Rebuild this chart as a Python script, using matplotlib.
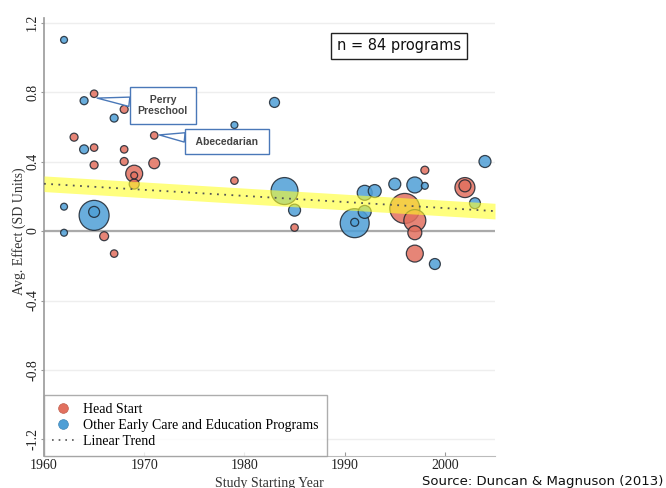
import numpy as np
import matplotlib
matplotlib.use('Agg')
import matplotlib.pyplot as plt
from matplotlib.lines import Line2D
from matplotlib.ticker import FuncFormatter

# Head Start programs: start year, average effect (SD units), study weight
hs_year   = [1965, 1968, 1963, 1971, 1965, 1968, 1965, 1968, 1971, 1969, 1969, 1969,
             1966, 1967, 1979, 1979, 1998, 1985, 1996, 1997, 1997, 1997, 2002, 2002]
hs_effect = [0.79, 0.70, 0.54, 0.55, 0.48, 0.47, 0.38, 0.40, 0.39, 0.33, 0.32, 0.27,
             -0.03, -0.13, 0.55, 0.29, 0.35, 0.02, 0.13, 0.06, -0.01, -0.13, 0.25, 0.26]
hs_weight = [14, 16, 16, 14, 14, 14, 16, 16, 30, 72, 12, 25,
             20, 14, 16, 14, 16, 14, 225, 121, 49, 72, 100, 36]

# Other early care and education programs
oth_year   = [1962, 1964, 1967, 1964, 1962, 1965, 1965, 1962, 1983, 1979, 1980, 1984,
              1985, 1991, 1991, 1992, 1993, 1992, 1995, 1997, 1998, 1999, 2003, 2004]
oth_effect = [1.10, 0.75, 0.65, 0.47, 0.14, 0.09, 0.11, -0.01, 0.74, 0.61, 0.48, 0.23,
              0.12, 0.045, 0.05, 0.22, 0.23, 0.11, 0.27, 0.265, 0.26, -0.19, 0.16, 0.40]
oth_weight = [12, 16, 16, 20, 12, 225, 30, 12, 25, 12, 16, 182,
              36, 210, 16, 56, 42, 42, 36, 64, 12, 30, 30, 36]

# fitted linear trend and its confidence band
trend_years = [1960, 2005]
trend_start, trend_slope = 0.272, -0.0035
band_half = 0.045

yticks = [-1.2, -0.8, -0.4, 0, 0.4, 0.8, 1.2]
xticks = [1960, 1970, 1980, 1990, 2000]

RED = '#e2705f'
BLUE = '#4f9fd6'
SERIF = ['Liberation Serif', 'DejaVu Serif']

fig = plt.figure(figsize=(6.66, 4.88), dpi=100)
ax = fig.add_axes([44/666, 1-456/488, 451/666, 438/488])
ax.set_xlim(1960, 2005)
ax.set_ylim(-1.295, 1.226)

# grid and zero line
for v in yticks:
    ax.axhline(v, color='#eeeeee', lw=1, zorder=0)
ax.axhline(0, color='#aaaaaa', lw=1.6, zorder=1)

def draw_points(years, effects, weights, color):
    order = np.argsort(weights)[::-1]
    x = np.array(years)[order]
    y = np.array(effects)[order]
    s = np.array(weights)[order] * 2.07
    ax.scatter(x, y, s=s, c=color, alpha=0.85, edgecolors='#1c2530',
               linewidths=0.9, zorder=2)

draw_points(hs_year, hs_effect, hs_weight, RED)
draw_points(oth_year, oth_effect, oth_weight, BLUE)

tx = np.array(trend_years, dtype=float)
ty = trend_start + trend_slope * (tx - 1960)
ax.fill_between(tx, ty - band_half, ty + band_half, color='#ffff2a', alpha=0.6,
                lw=0, zorder=3)
ax.plot(tx, ty, color='#555555', lw=1.3, ls=(0, (1, 3)), zorder=4)

# callouts
callout_box = dict(boxstyle='square,pad=0.75', fc='white', ec='#4a78b8', lw=1)
callout_arrow = dict(arrowstyle='wedge,tail_width=0.9', fc='white', ec='#4a78b8',
                     lw=1, shrinkA=0, shrinkB=0)
ax.annotate('  Perry  \nPreschool', xy=(1965.3, 0.765), xytext=(1971.85, 0.722),
            ha='center', va='center', fontsize=7.5, fontweight='bold',
            family='Liberation Sans', color='#444444', linespacing=1.15,
            bbox=callout_box, arrowprops=callout_arrow, zorder=5)
ax.annotate(' Abecedarian ', xy=(1971.5, 0.553), xytext=(1978.25, 0.515),
            ha='center', va='center', fontsize=7.5, fontweight='bold',
            family='Liberation Sans', color='#444444',
            bbox=callout_box, arrowprops=callout_arrow, zorder=5)

ax.text(1995.4, 1.065, 'n = 84 programs', ha='center', va='center', fontsize=10.5,
        family='DejaVu Sans', color='#111111',
        bbox=dict(boxstyle='square,pad=0.4', fc='white', ec='#222222', lw=1))

# axes styling
for side in ['top', 'right']:
    ax.spines[side].set_visible(False)
ax.spines['left'].set_color('#999999')
ax.spines['left'].set_linewidth(1.2)
ax.spines['bottom'].set_color('#bbbbbb')
ax.set_yticks(yticks)
ax.set_xticks(xticks)
ax.yaxis.set_major_formatter(FuncFormatter(lambda v, p: '0' if v == 0 else f'{v:.1f}'))
ax.tick_params(axis='both', colors='#999999', labelcolor='#222222')
ax.tick_params(axis='y', labelrotation=90, length=2, pad=1.5)
ax.tick_params(axis='x', direction='in', length=3, pad=2)
for lab in ax.get_yticklabels() + ax.get_xticklabels():
    lab.set_family(SERIF)
    lab.set_fontsize(10)
for lab in ax.get_yticklabels():
    lab.set_va('center')

ax.set_ylabel('Avg. Effect (SD Units)', family=SERIF, fontsize=10, color='#333333')
ax.yaxis.set_label_coords(-0.04, 0.514)
ax.set_xlabel('Study Starting Year', family=SERIF, fontsize=10, color='#333333',
              labelpad=4)

handles = [
    Line2D([], [], ls='none', marker='o', ms=7, mfc=RED, mec='#c0604f', mew=0.5),
    Line2D([], [], ls='none', marker='o', ms=7, mfc=BLUE, mec='#3f85b5', mew=0.5),
    Line2D([], [], color='#555555', ls=(0, (1, 3)), lw=1.2),
]
leg = ax.legend(handles, ['Head Start', 'Other Early Care and Education Programs',
                          'Linear Trend'],
                loc='lower left', bbox_to_anchor=(0, 0), borderaxespad=0,
                prop={'family': SERIF, 'size': 10}, frameon=True, fancybox=False,
                edgecolor='#999999', labelspacing=0.2, handlelength=1.6,
                handletextpad=0.6, borderpad=0.6)
leg.get_frame().set_linewidth(1)
leg.set_zorder(6)

fig.text(422/666, 1-482/488, 'Source: Duncan & Magnuson (2013)', ha='left',
         va='center', fontsize=9.5, family='DejaVu Sans', color='#111111')

fig.savefig('out.png', dpi=100)
